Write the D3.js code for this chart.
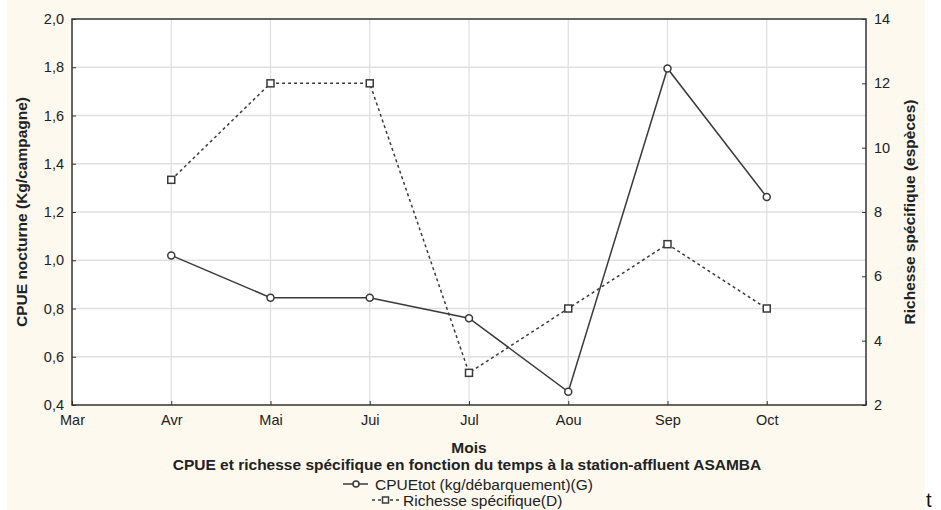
<!DOCTYPE html>
<html><head><meta charset="utf-8">
<script src="https://cdn.jsdelivr.net/npm/d3@7"></script>
<style>body{margin:0;background:#fff}svg{display:block;font-family:"Liberation Sans",Arial,sans-serif}</style>
</head><body>
<svg id="c" width="941" height="510"></svg>
<script>
const months = ["Mar","Avr","Mai","Jui","Jul","Aou","Sep","Oct",""];
const dataMonths = ["Avr","Mai","Jui","Jul","Aou","Sep","Oct"];
const cpue = [1.02,0.845,0.845,0.76,0.455,1.795,1.262];
const richesse = [9,12,12,3,5,7,5];
const leftTicks = [0.4,0.6,0.8,1.0,1.2,1.4,1.6,1.8,2.0];
const rightTicks = [2,4,6,8,10,12,14];

const svg = d3.select("#c");
const M = {l:72, r:866, t:19, b:405};
svg.append("rect").attr("x",7).attr("y",0).attr("width",918).attr("height",510).attr("fill","#fdf9ef");
svg.append("rect").attr("x",M.l).attr("y",M.t).attr("width",M.r-M.l).attr("height",M.b-M.t).attr("fill","#fff");

const x = d3.scalePoint().domain(months.map((m,i)=>i)).range([M.l,M.r]);
const xi = m => x(months.indexOf(m));
const yL = d3.scaleLinear().domain([0.4,2.0]).range([M.b,M.t]);
const yR = d3.scaleLinear().domain([2,14]).range([M.b,M.t]);
const fmt = d => d3.format(".1f")(d).replace(".",",");

// grid
const g = svg.append("g").attr("stroke","#e0e0e0").attr("stroke-width",1.3);
leftTicks.slice(1,-1).forEach(v=>g.append("line").attr("x1",M.l).attr("x2",M.r).attr("y1",yL(v)).attr("y2",yL(v)));
months.slice(1,-1).forEach((m,i)=>g.append("line").attr("y1",M.t).attr("y2",M.b).attr("x1",x(i+1)).attr("x2",x(i+1)));

// axes
const ax = (sel)=>sel.call(s=>s.select(".domain").remove()).selectAll("text").attr("fill","#222").style("font-size","14.5px");
svg.append("g").attr("transform",`translate(${M.l},0)`).call(d3.axisLeft(yL).tickValues(leftTicks).tickFormat(fmt).tickSize(-4).tickPadding(8)).call(ax).selectAll("line").attr("stroke","#333");
svg.append("g").attr("transform",`translate(${M.r},0)`).call(d3.axisRight(yR).tickValues(rightTicks).tickFormat(d3.format("d")).tickSize(-4).tickPadding(8)).call(ax).selectAll("line").attr("stroke","#333");
svg.append("g").attr("transform",`translate(0,${M.b})`).call(d3.axisBottom(x).tickFormat(i=>months[i]).tickSize(-4).tickPadding(10)).call(ax).selectAll("line").attr("stroke","#333");

svg.append("rect").attr("x",M.l).attr("y",M.t).attr("width",M.r-M.l).attr("height",M.b-M.t).attr("fill","none").attr("stroke","#333").attr("stroke-width",1.5);

// lines
const lc = "#3a3a3a";
const lineL = d3.line().x((d,i)=>xi(dataMonths[i])).y(d=>yL(d));
const lineR = d3.line().x((d,i)=>xi(dataMonths[i])).y(d=>yR(d));
svg.append("path").attr("d",lineR(richesse)).attr("fill","none").attr("stroke",lc).attr("stroke-width",1.5).attr("stroke-dasharray","3,3");
svg.append("path").attr("d",lineL(cpue)).attr("fill","none").attr("stroke",lc).attr("stroke-width",1.5);
svg.selectAll(".sq").data(richesse).enter().append("rect").attr("x",(d,i)=>xi(dataMonths[i])-3.5).attr("y",d=>yR(d)-3.5).attr("width",7).attr("height",7).attr("fill","#fff").attr("stroke",lc).attr("stroke-width",1.5);
svg.selectAll(".ci").data(cpue).enter().append("circle").attr("cx",(d,i)=>xi(dataMonths[i])).attr("cy",d=>yL(d)).attr("r",3.5).attr("fill","#fff").attr("stroke",lc).attr("stroke-width",1.5);

// labels
const bold = (t)=>t.style("font-size","15.5px").style("font-weight","bold").attr("fill","#222");
svg.append("text").attr("transform",`translate(27,${(M.t+M.b)/2}) rotate(-90)`).attr("text-anchor","middle").call(bold).text("CPUE nocturne (Kg/campagne)");
svg.append("text").attr("transform",`translate(915,${(M.t+M.b)/2}) rotate(-90)`).attr("text-anchor","middle").call(bold).text("Richesse spécifique (espèces)");
svg.append("text").attr("x",469).attr("y",452.5).attr("text-anchor","middle").call(bold).text("Mois");
svg.append("text").attr("x",467).attr("y",469.5).attr("text-anchor","middle").call(bold).text("CPUE et richesse spécifique en fonction du temps à la station-affluent ASAMBA");

// legend
svg.append("line").attr("x1",343).attr("x2",368).attr("y1",484).attr("y2",484).attr("stroke",lc).attr("stroke-width",1.5);
svg.append("circle").attr("cx",356).attr("cy",484).attr("r",3).attr("fill","#fff").attr("stroke",lc).attr("stroke-width",1.5);
svg.append("text").attr("x",375).attr("y",489.5).style("font-size","15.5px").attr("fill","#222").text("CPUEtot (kg/débarquement)(G)");
svg.append("line").attr("x1",372).attr("x2",399).attr("y1",500).attr("y2",500).attr("stroke",lc).attr("stroke-width",1.5).attr("stroke-dasharray","3,3");
svg.append("rect").attr("x",382.5).attr("y",497).attr("width",6).attr("height",6).attr("fill","#fff").attr("stroke",lc).attr("stroke-width",1.5);
svg.append("text").attr("x",403).attr("y",505.5).style("font-size","15.5px").attr("fill","#222").text("Richesse spécifique(D)");
svg.append("text").attr("x",926).attr("y",507).style("font-size","20px").attr("fill","#111").text("t");
</script>
</body></html>
